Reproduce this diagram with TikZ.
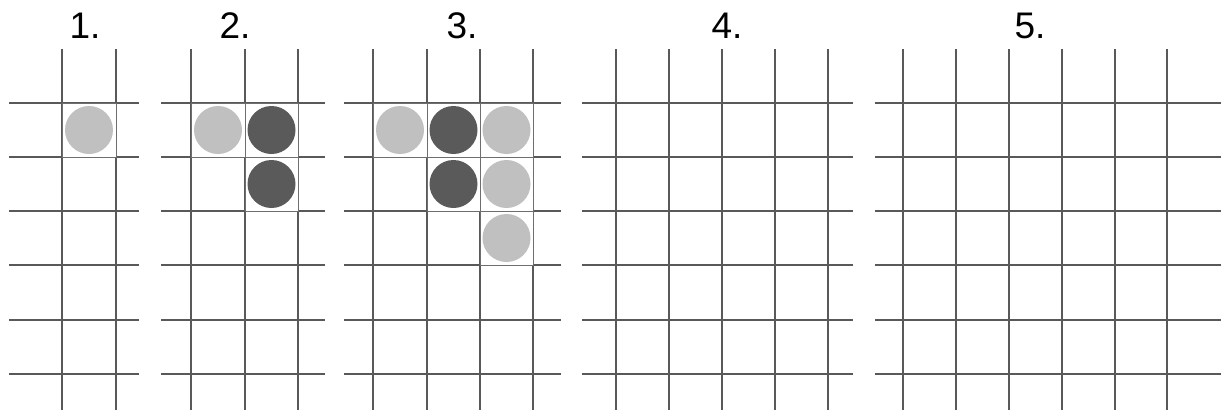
\documentclass[tikz,border=0pt]{standalone}
\usepackage{fontspec}
\setmainfont{Liberation Sans}
\usetikzlibrary{calc}
\definecolor{gridLine}{RGB}{89,89,89}
\definecolor{cellEdge}{RGB}{110,110,110}
\definecolor{stoneLight}{RGB}{192,192,192}
\definecolor{stoneDark}{RGB}{90,90,90}

\begin{document}
\begin{tikzpicture}[
    x=1pt, y=-1pt,
    gridline/.style={draw=gridLine, line width=1.7pt},
    cellbox/.style={draw=cellEdge, line width=0.5pt, fill=white},
    stone/.style={circle, minimum size=48pt, inner sep=0pt},
    light/.style={stone, fill=stoneLight},
    dark/.style={stone, fill=stoneDark},
    steplbl/.style={font=\fontsize{37}{40}\selectfont, anchor=base, inner sep=0pt}
]
\useasboundingbox (0,0) rectangle (1224,410);

% --- Step labels ---
\foreach \x/\t in {85/1, 235/2, 462/3, 727/4, 1030/5}
    \node[steplbl] (lbl\t) at (\x,38) {\t.};

% --- Grid rows (one span per board) ---
\foreach \xa/\xb in {9/139, 161/325, 344/561, 582/853, 875/1221}
    \foreach \y in {103,157,211,265,320,374}
        \draw[gridline] (\xa,\y) -- (\xb,\y);

% --- Grid columns ---
\foreach \x in {62,116, 191,245,298, 373,427,480,533, 616,669,722,775,828, 903,956,1009,1062,1115,1167}
    \draw[gridline] (\x,49) -- (\x,410);

% --- Occupied cells and stones ---
\foreach \xa/\xb/\ya/\yb/\kind/\nm in {
    62/116/103/157/light/a1,
    191/245/103/157/light/b1, 245/298/103/157/dark/b2, 245/298/157/211/dark/b3,
    373/427/103/157/light/c1, 427/480/103/157/dark/c2, 480/533/103/157/light/c3,
    427/480/157/211/dark/c4, 480/533/157/211/light/c5, 480/533/211/265/light/c6} {
    \draw[cellbox] (\xa,\ya) rectangle (\xb,\yb);
    \node[\kind] (\nm) at ($(\xa,\ya)!0.5!(\xb,\yb)$) {};
}

\end{tikzpicture}
\end{document}
